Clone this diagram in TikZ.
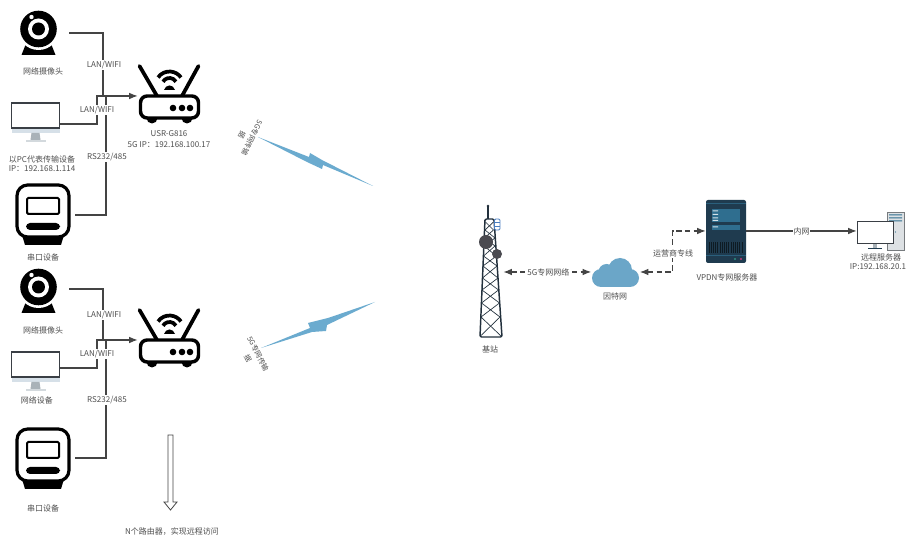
\documentclass[tikz,border=0pt]{standalone}
\usepackage{fontspec}
\setmainfont{Noto Sans CJK SC}
\usetikzlibrary{arrows.meta,calc}
\definecolor{txtc}{HTML}{4F4F4F}
\definecolor{linec}{HTML}{444444}
\definecolor{boltc}{HTML}{6BABCF}
\definecolor{screenc}{HTML}{3A3F45}
\definecolor{screenfoot}{HTML}{D6E0E8}
\definecolor{standc}{HTML}{A9B2B8}
\definecolor{standl}{HTML}{D3D9DD}
\definecolor{srv}{HTML}{1F3B4F}
\definecolor{srvp}{HTML}{2F6E8F}
\definecolor{towerc}{HTML}{22303C}
\definecolor{discc}{HTML}{4A4A50}
\definecolor{panelc}{HTML}{4A7FC1}
\definecolor{cloudc}{HTML}{6BA6C8}
\definecolor{towerg}{HTML}{C7CDD2}
\definecolor{ledg}{HTML}{2F8F7F}
\definecolor{ledp}{HTML}{C43C7A}
\tikzset{
  lbl/.style={font=\fontsize{6}{7}\selectfont, text=txtc, inner sep=0.6pt, align=center},
  lblw/.style={lbl, fill=white},
  lblr/.style={font=\fontsize{5.4}{6}\selectfont, text=txtc, inner sep=0pt},
  hit/.style={inner sep=0pt, draw=none},
  conn/.style={draw=linec, line width=0.85pt},
  tip/.style={-{Latex[length=6.5pt,width=5pt]}},
  dsh/.style={draw=linec, line width=0.85pt, dash pattern=on 4pt off 2.5pt},
  bolt/.style={fill=boltc, draw=none},
  pics/camera/.style={code={
    \fill[black] (-17,26) -- (-13,16) -- (13,16) -- (17,26) -- cycle;
    \fill[white] (0,0) circle[radius=21];
    \fill[black] (0,0) circle[radius=18.3];
    \fill[white] (0,0) circle[radius=10.5];
    \fill[black] (0,0) circle[radius=6.5];
    \fill[white] (-7,-12) circle[radius=2.2];
  }},
  pics/screen/.style={code={
    \fill[screenfoot] (-24,25) -- (24,25) -- (24,30) -- (-24,30) -- cycle;
    \fill[standc] (-4,30) -- (4,30) -- (5,37) -- (-5,37) -- cycle;
    \fill[standl] (-10,37) rectangle (10,39);
    \draw[draw=screenc, line width=1.2pt, fill=white] (-24,0) rectangle (24,25);
  }},
  pics/meter/.style={code={
    \fill[black] (-21,50) -- (-18,60) -- (18,60) -- (21,50) -- cycle;
    \draw[black, line width=2.4pt, fill=white, rounded corners=8pt] (-26,0) rectangle (26,52);
    \draw[black, line width=1.5pt, rounded corners=1pt] (-16,13) rectangle (16,29);
    \fill[black, rounded corners=3pt] (-17,38) rectangle (17,45);
  }},
  pics/router/.style={code={
    \draw[black, line width=2.8pt, line cap=round] (-12.5,0) -- (-30,-30);
    \draw[black, line width=2.8pt, line cap=round] (12.5,0) -- (29,-30);
    \fill[black] (-17.5,22) circle[radius=5.5];
    \fill[black] (17.5,22) circle[radius=5.5];
    \draw[black, line width=2.6pt, fill=white, rounded corners=5pt] (-29,0) rectangle (29,22);
    \fill[black] (3.5,12) circle[radius=3.3] (12.5,12) circle[radius=3.3] (20.5,12) circle[radius=3.3];
    \draw[black, line width=2.8pt] (0,-10.5) ++(-145:14) arc[start angle=-145,end angle=-35,radius=14];
    \draw[black, line width=2.8pt] (0,-10.5) ++(-150:7.5) arc[start angle=-150,end angle=-30,radius=7.5];
    \fill[black] (-5.5,-6) .. controls (-4,-12) and (4,-12) .. (5.5,-6) -- cycle;
  }},
}
\begin{document}
\begin{tikzpicture}[x=0.75pt,y=-0.75pt]
\useasboundingbox (0,0) rectangle (908,538);
\fill[white] (0,0) rectangle (908,538);

% --- icons ---
\pic at (38.5,29) {camera};
\pic at (35.5,103) {screen};
\pic at (43,185) {meter};
\pic at (169.5,96) {router};
\pic at (38.5,287) {camera};
\pic at (35.5,352) {screen};
\pic at (43,429) {meter};
\pic at (169.5,340) {router};

% connector anchors on the icons
\node[hit, minimum width=45pt, minimum height=3pt] (cam1) at (39,33) {};
\node[hit, minimum width=36.75pt, minimum height=3pt] (mon1) at (35.5,124) {};
\node[hit, minimum width=47.25pt, minimum height=3pt] (mtr1) at (43.5,215) {};
\node[hit, minimum width=47.25pt, minimum height=3pt] (rt1) at (169.5,96) {};
\node[hit, minimum width=45pt, minimum height=3pt] (cam2) at (39,289) {};
\node[hit, minimum width=36.75pt, minimum height=3pt] (mon2) at (35.5,368) {};
\node[hit, minimum width=47.25pt, minimum height=3pt] (mtr2) at (43.5,458) {};
\node[hit, minimum width=47.25pt, minimum height=3pt] (rt2) at (169.5,340) {};
\coordinate (a1) at (103,96);
\coordinate (b1) at (97,96);
\coordinate (c1) at (106,96);
\coordinate (a2) at (103,340);
\coordinate (b2) at (97,340);
\coordinate (c2) at (106,340);

\draw[conn] (cam1.east) -| (a1);
\draw[conn] (mtr1.east) -| (c1);
\draw[conn,tip] (mon1.east) -| (b1) -- (rt1.west);
\draw[conn] (cam2.east) -| (a2);
\draw[conn] (mtr2.east) -| (c2);
\draw[conn,tip] (mon2.east) -| (b2) -- (rt2.west);

% --- left labels ---
\node[lbl] at (43,71) {网络摄像头};
\node[lblw] at (104,65) {LAN/WIFI};
\node[lblw] at (97,110) {LAN/WIFI};
\node[lblw] at (107,157) {RS232/485};
\node[lbl] at (169,134) {USR-G816};
\node[lbl] at (169,145) {5G IP：192.168.100.17};
\node[lbl] at (42,159) {以PC代表传输设备};
\node[lbl] at (42,168.5) {IP：192.168.1.114};
\node[lbl] at (43,257) {串口设备};
\node[lbl] at (43,330) {网络摄像头};
\node[lblw] at (104,315) {LAN/WIFI};
\node[lblw] at (97,354) {LAN/WIFI};
\node[lblw] at (107,400) {RS232/485};
\node[lbl] at (37,400) {网络设备};
\node[lbl] at (43,508) {串口设备};
\node[lbl] at (172,532) {N个路由器，实现远程访问};

% --- hollow arrow ---
\draw[draw=linec, line width=0.6pt, fill=white] (168,435) -- (173,435) -- (173,502) -- (177,502) -- (170.5,510) -- (164,502) -- (168,502) -- cycle;

% --- bolts ---
\fill[bolt] (258,137) -- (309,157) -- (310,153) -- (322,160) -- (373,186) -- (323,165) -- (322,169) -- (307,162) -- cycle;
\fill[bolt] (261,348) -- (312,332) -- (326,331) -- (327,325) -- (375,302) -- (328,318) -- (308,323) -- (310,328) -- cycle;
\node[lblr, rotate=-116] at (252,138) {5G专网传输};
\node[lblr, rotate=-116] at (242,135) {据};
\node[lblr, rotate=-63] at (258,354) {5G专网传输};
\node[lblr, rotate=-63] at (248,358) {据};

% --- tower ---
\draw[towerc, line width=0.8pt] (488,206) -- (488,219);
\fill[towerc] (488,206) circle[radius=1.4];
\draw[towerc, line width=0.5pt] (485.5,222) -- (493.5,230) -- (484.5,238) -- (495,246) -- (483.5,256) -- (497,266) -- (482.5,278) -- (498.5,290) -- (481.5,303) -- (500,317) -- (480.5,336)
  (493.5,222) -- (485,230) -- (495,238) -- (484,246) -- (496.5,256) -- (483,266) -- (498,278) -- (482,290) -- (499.5,303) -- (481,317) -- (501,336);
\draw[towerc, line width=1.1pt, rounded corners=1pt] (480,337) -- (485,219) -- (494,219) -- (502,337) -- cycle;
\fill[discc] (486,242) circle[radius=7];
\fill[discc] (497,254) circle[radius=5];
\draw[panelc, line width=0.7pt, fill=white, rounded corners=1pt] (494.5,219) rectangle (500,230);
\draw[panelc, line width=0.5pt] (494.5,222.5) -- (500,222.5) (494.5,226) -- (500,226);
\node[hit, minimum width=15pt, minimum height=3pt] (bs) at (493,272) {};
\node[lbl] at (490,349) {基站};

% --- cloud ---
\fill[cloudc] (620,270) circle[radius=12];
\fill[cloudc] (606.5,272) circle[radius=8];
\fill[cloudc] (601,278) circle[radius=9];
\fill[cloudc] (630,278) circle[radius=9];
\fill[cloudc] (601,272) rectangle (630,287);
\node[hit, minimum width=36pt, minimum height=3pt] (cloud) at (615.5,272) {};
\node[lbl] at (615,296) {因特网};

% --- server ---
\fill[srv, rounded corners=1.5pt] (706,200) rectangle (746,263);
\fill[srvp!70!srv] (706,203.5) rectangle (746,204.2);
\fill[srvp] (712,209) rectangle (740,222);
\fill[srvp] (712,225) rectangle (740,230);
\fill[white!80!srvp] (712.5,210.5) rectangle (718,211.5) (712.5,214) rectangle (718,215) (712.5,217.5) rectangle (718,218.5) (712.5,220) rectangle (718,221) (712.5,226.5) rectangle (718,227.5);
\foreach \i in {0,...,15} {
  \fill[black!55!srv] ({708.5+\i*2.2},242) rectangle ({709.6+\i*2.2},253);
}
\fill[srvp!70!srv] (706,255) rectangle (746,255.6);
\fill[ledg] (735,259) circle[radius=1.2];
\fill[ledp] (741,259) circle[radius=1.2];
\node[hit, minimum width=30pt, minimum height=3pt] (vpdn) at (726,231) {};
\node[lbl] at (727,277) {VPDN专网服务器};

% --- remote server ---
\draw[draw=towerg!60!black, line width=0.5pt, fill=towerg!60] (887,212) rectangle (904,250);
\fill[srvp] (889,214.5) rectangle (902,215.5) (889,217.5) rectangle (902,218.5) (889,220.5) rectangle (902,221.5);
\fill[srvp] (895.5,232) circle[radius=0.7];
\fill[standc] (873,244) rectangle (877,248);
\fill[srv] (868,248) rectangle (882,249.5);
\draw[draw=screenc, line width=0.75pt, fill=white] (857,222) rectangle (893,244);
\node[hit, minimum width=27pt, minimum height=3pt] (pc) at (875,231) {};
\node[lbl] at (881,257) {远程服务器};
\node[lbl] at (878,267) {IP:192.168.20.1};

% --- right connectors ---
\coordinate (bend) at (672.5,231);
\draw[dsh,{Latex[length=6.5pt,width=5pt]}-{Latex[length=6.5pt,width=5pt]}] (bs.east) -- node[lblw, xshift=0.8pt]{5G专网网络} (cloud.west);
\draw[dsh,{Latex[length=6.5pt,width=5pt]}-{Latex[length=6.5pt,width=5pt]}] (cloud.east) -| (bend) -- (vpdn.west);
\node[lblw] at (673,253) {运营商专线};
\draw[conn,tip] (vpdn.east) -- node[lblw]{内网} (pc.west);
\end{tikzpicture}
\end{document}
